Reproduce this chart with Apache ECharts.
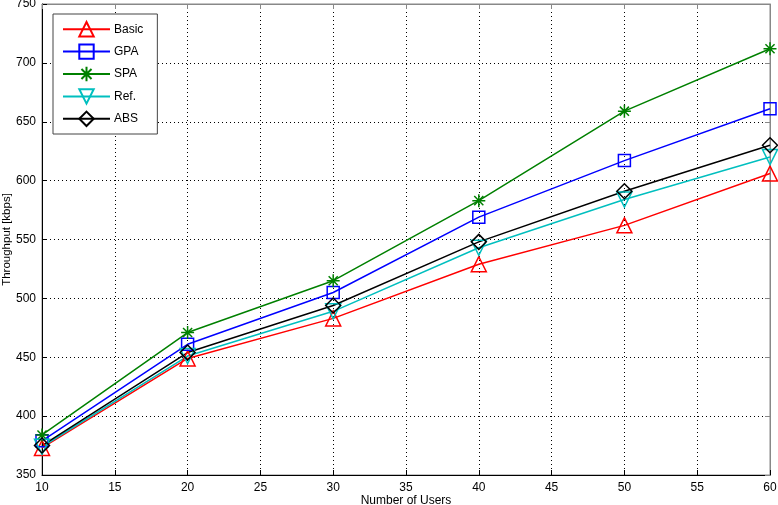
<!DOCTYPE html>
<html>
<head>
<meta charset="utf-8">
<script src="https://cdn.jsdelivr.net/npm/echarts@6/dist/echarts.min.js"></script>
<style>
  html, body { margin: 0; padding: 0; background: #fff; }
  #chart { width: 778px; height: 505px; }
</style>
</head>
<body>
<div id="chart"></div>
<script>
// number of users
var users = [10, 20, 30, 40, 50, 60];

// throughput [kbps]
var basic = [373, 449, 483, 529, 562, 606];
var gpa   = [379, 461, 505, 569, 617, 661];
var spa   = [384, 471, 515, 583, 659, 712];
var ref   = [374, 451, 489, 543, 584, 620];
var abs   = [375, 454, 494, 548, 591, 630];

var asterisk = 'path://M0,-1L0,1M-1,0L1,0M-0.7,-0.7L0.7,0.7M-0.7,0.7L0.7,-0.7';
var downTri = 'path://M-1,-0.87L1,-0.87L0,0.87Z';

function pairs(vals) {
  return users.map(function (u, i) { return [u, vals[i]]; });
}

function mkSeries(name, vals, color, symbol, size) {
  return {
    name: name,
    type: 'line',
    data: pairs(vals),
    symbol: symbol,
    symbolSize: size,
    showAllSymbol: true,
    lineStyle: { color: color, width: 1.5 },
    itemStyle: { color: 'rgba(255,255,255,0)', borderColor: color, borderWidth: 1.5 },
    emphasis: { disabled: true },
    z: 5
  };
}

var font = 'Liberation Sans, Arial, sans-serif';
var chart = echarts.init(document.getElementById('chart'));

var gridLine = { show: true, lineStyle: { color: '#000', type: [1, 3], width: 1 } };

chart.setOption({
  animation: false,
  backgroundColor: '#fff',
  grid: { left: 42, right: 8, top: 4, bottom: 30, outerBoundsMode: 'none', containLabel: false,
          show: true, borderColor: '#888', borderWidth: 1 },
  legend: {
    left: 53, top: 14,
    orient: 'vertical',
    itemWidth: 47, itemHeight: 18, itemGap: 6,
    padding: [7, 14, 7, 9],
    borderColor: '#444', borderWidth: 1,
    backgroundColor: '#fff',
    textStyle: { fontFamily: font, fontSize: 12, color: '#000', padding: [0, 0, 0, -1] },
    data: ['Basic', 'GPA', 'SPA', 'Ref.', 'ABS']
  },
  xAxis: [{
    type: 'value', min: 10, max: 60, interval: 5,
    name: 'Number of Users', nameLocation: 'middle', nameGap: 20, nameMoveOverlap: false,
    nameTextStyle: { fontFamily: font, fontSize: 12, color: '#000' },
    axisLine: { onZero: false, lineStyle: { color: '#000', width: 1 } },
    axisTick: { inside: true, length: 5, lineStyle: { color: '#000' } },
    axisLabel: { fontFamily: font, fontSize: 12, color: '#000', margin: 7 },
    splitLine: gridLine
  }, {
    type: 'value', min: 10, max: 60, interval: 5, position: 'top',
    axisLine: { onZero: false, lineStyle: { color: '#888' } },
    axisTick: { inside: true, length: 5, lineStyle: { color: '#888' } },
    axisLabel: { show: false }, splitLine: { show: false }
  }],
  yAxis: [{
    type: 'value', min: 350, max: 750, interval: 50,
    name: 'Throughput [kbps]', nameLocation: 'middle', nameGap: 29, nameMoveOverlap: false,
    nameTextStyle: { fontFamily: font, fontSize: 11.5, color: '#000' },
    axisLine: { show: true, onZero: false, lineStyle: { color: '#000', width: 1 } },
    axisTick: { show: true, inside: true, length: 5, lineStyle: { color: '#000' } },
    axisLabel: { fontFamily: font, fontSize: 12, color: '#000', margin: 6 },
    splitLine: gridLine
  }, {
    type: 'value', min: 350, max: 750, interval: 50, position: 'right',
    axisLine: { show: true, onZero: false, lineStyle: { color: '#888' } },
    axisTick: { show: true, inside: true, length: 5, lineStyle: { color: '#888' } },
    axisLabel: { show: false }, splitLine: { show: false }
  }],
  series: [
    mkSeries('Basic', basic, '#ff0000', 'triangle', 15),
    mkSeries('GPA', gpa, '#0000ff', 'rect', 12),
    mkSeries('SPA', spa, '#008000', asterisk, 13),
    mkSeries('Ref.', ref, '#00bfbf', downTri, 15),
    mkSeries('ABS', abs, '#000000', 'diamond', 15)
  ]
});
</script>
</body>
</html>
